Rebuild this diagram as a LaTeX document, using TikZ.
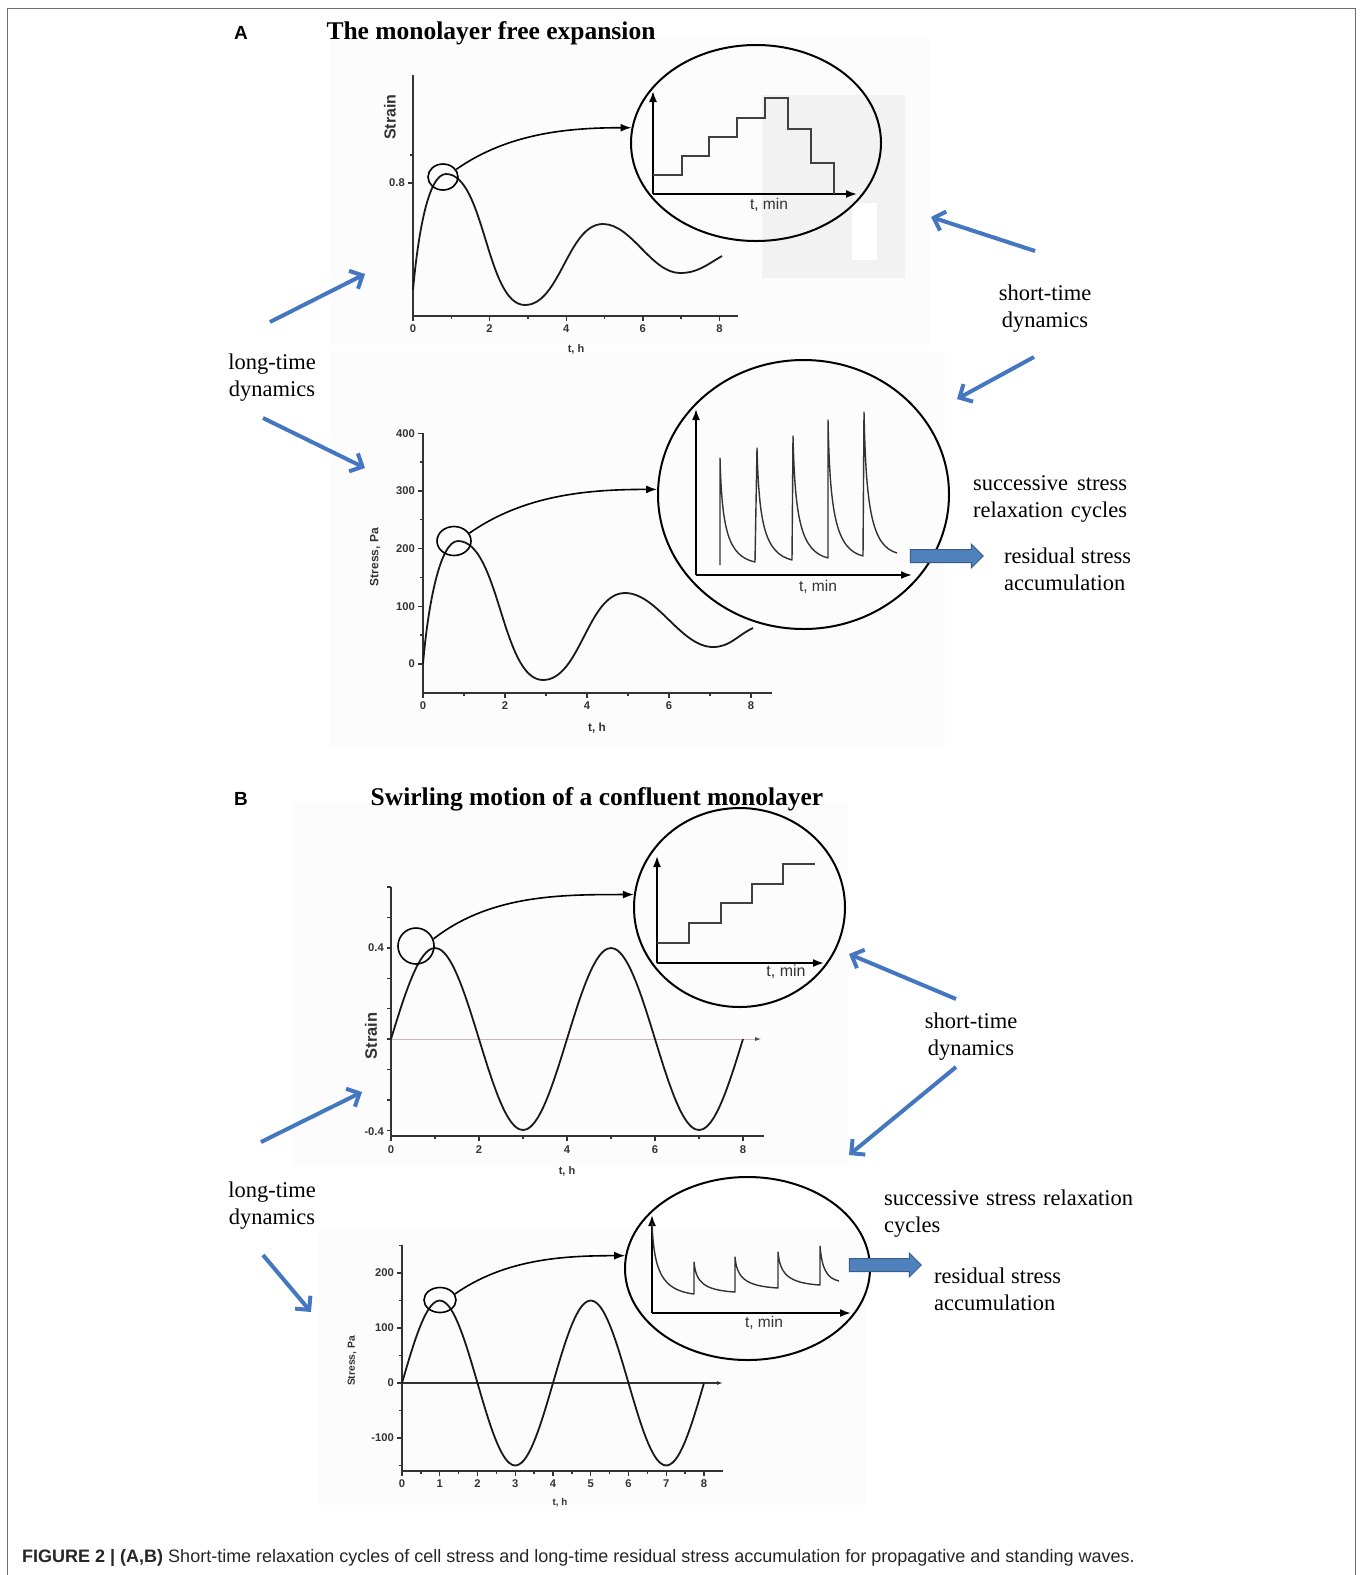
\documentclass[tikz,border=0pt]{standalone}
\usepackage{fontspec}
\setmainfont{Liberation Serif}
\setsansfont{Liberation Sans}
\usepackage{tikz}
\usetikzlibrary{arrows.meta, shapes.geometric, shapes.arrows}
\definecolor{arrowblue}{RGB}{68,118,194}
\definecolor{blockblue}{RGB}{79,129,189}
\definecolor{blockedge}{RGB}{56,93,138}
\definecolor{framegray}{RGB}{110,110,110}
\definecolor{zeroline}{RGB}{205,180,185}
\newcommand{\curvecolor}{black!90}
\newcommand{\axiscolor}{black!80}
\newcommand{\tickcolor}{black!80}
\newcommand{\paperbg}{black!1}

\begin{document}
\begin{tikzpicture}[
      % GLOBAL CFG
      x=1pt, y=-1pt,
      >=Latex,
      % Styles
      heading/.style={% panel titles
        font=\bfseries\fontsize{25.5}{30}\selectfont,
        inner sep=0,
        anchor=base
      },
      panel/.style={% panel letters
        font=\sffamily\bfseries\fontsize{19}{22}\selectfont,
        inner sep=0,
        anchor=base
      },
      annot/.style={% serif annotations
        font=\fontsize{22.5}{27}\selectfont,
        inner sep=0
      },
      ticklabel/.style={
        font=\sffamily\bfseries\fontsize{11.2}{12}\selectfont,
        text=\tickcolor,
        inner sep=0
      },
      axistitle/.style={
        font=\sffamily\bfseries\fontsize{#1}{#1}\selectfont,
        text=\tickcolor,
        inner sep=0
      },
      minlabel/.style={
        font=\sffamily\fontsize{15.5}{18}\selectfont,
        text=\tickcolor,
        inner sep=0
      },
      plotaxis/.style={line width=1.4pt, draw=\axiscolor},
      trace/.style={line width=1.8pt, draw=\curvecolor, line join=round},
      inset/.style={ellipse, draw, line width=2pt, inner sep=0},
      zoomring/.style={ellipse, draw, line width=1.6pt, inner sep=0},
      arrowzoom/.style={line width=1.6pt, -{Latex[length=11pt,width=8pt]}},
      insetaxis/.style={line width=1.8pt, -{Latex[length=11pt,width=8pt]}},
      stairs/.style={line width=1.5pt, draw=black!75},
      spikes/.style={line width=1.4pt, draw=black!80, line join=round},
      bluearrow/.style={% For the dynamics pointers
        line width=4pt,
        arrowblue,
        -{Straight Barb[length=10pt,width=20pt]}
      },
      blockarrow/.style={% For residual accumulation
        single arrow,
        draw=blockedge,
        fill=blockblue,
        line width=1pt,
        inner xsep=0,
        inner ysep=6pt,
        single arrow head extend=5.5pt,
        minimum height=73pt
      }
      ]
      \useasboundingbox (0,0) rectangle (1360,1575);

      % Frame and faint backgrounds
      \draw[framegray, line width=1.6pt] (7.5,1575) -- (7.5,8.5) -- (1355.5,8.5) -- (1355.5,1575);
      \fill[\paperbg] (330,38) rectangle (930,345);
      \fill[black!5] (762,95) rectangle (905,278);
      \fill[white] (852,203) rectangle (877,260);
      \fill[\paperbg] (330,352) rectangle (945,748);
      \fill[\paperbg] (293,803) rectangle (848,1165);
      \fill[\paperbg] (318,1228) rectangle (866,1505);

      % ---------------- Panel A ----------------
      \node[panel] (labA) at (241,39) {A};
      \node[heading] (headA) at (491,39) {The monolayer free expansion};

      % Strain plot
      \draw[plotaxis] (413,75) -- (413,316) -- (738,316);
      \foreach \k in {0,2,4,6,8}{
        \draw[plotaxis] ({413+38.3*\k},316) -- ++(0,5);
        \node[ticklabel] (xA1\k) at ({413+38.3*\k},329) {\k};
      }
      \foreach \k in {1,3,5,7}
        \draw[plotaxis] ({413+38.3*\k},316) -- ++(0,3);
      \draw[plotaxis] (413,183) -- ++(-5,0);
      \draw[plotaxis] (413,155) -- ++(-3,0);
      \node[ticklabel, anchor=east] (yA1) at (405,183) {0.8};
      \node[axistitle=16, rotate=90] (strainA) at (390,117) {Strain};
      \node[axistitle=11] (timeA1) at (576,349) {t, h};
      \draw[trace] (413,290) .. controls (418,235) and (428,174) .. (446,174)
        to[out=0, in=180, looseness=0.65] (525,305)
        to[out=0, in=180, looseness=0.8] (603,224)
        to[out=0, in=180, looseness=0.8] (680,273)
        to[out=0, in=210] (722,256);

      % Step inset
      \node[inset, minimum width=250pt, minimum height=196pt] (insetA1) at (756,143) {};
      \draw[insetaxis] (653,194) -- (653,91);
      \draw[insetaxis] (653,194) -- (857,194);
      \draw[stairs] (653,175) -| (682,156) -| (709,137) -| (737,118) -| (765,98) -| (788,129) -| (811,163) -| (834,194);
      \node[minlabel] (minA1) at (769,205) {t, min};
      \node[zoomring, minimum width=30pt, minimum height=26pt] (ringA1) at (443,177) {};
      \draw[arrowzoom] (ringA1.30) to[out=35, in=180, looseness=0.9] (insetA1.173);

      % Stress plot
      \draw[plotaxis] (423,433) -- (423,693) -- (772,693);
      \foreach \k/\v in {0/0,1/100,2/200,3/300,4/400}{
        \draw[plotaxis] (423,{664-57.7*\k}) -- ++(-5,0);
        \node[ticklabel, anchor=east] (yA2\k) at (415,{664-57.7*\k}) {\v};
      }
      \foreach \k in {0.5,1.5,2.5,3.5}
        \draw[plotaxis] (423,{664-57.7*\k}) -- ++(-3,0);
      \foreach \k in {0,2,4,6,8}{
        \draw[plotaxis] ({423+41*\k},693) -- ++(0,5);
        \node[ticklabel] (xA2\k) at ({423+41*\k},706) {\k};
      }
      \foreach \k in {1,3,5,7}
        \draw[plotaxis] ({423+41*\k},693) -- ++(0,3);
      \node[axistitle=12, rotate=90] (stressA) at (375,557) {Stress, Pa};
      \node[axistitle=11.8] (timeA2) at (597,728) {t, h};
      \draw[trace] (423,664) .. controls (428,605) and (440,541) .. (458,541)
        to[out=0, in=180, looseness=0.65] (543,680)
        to[out=0, in=180, looseness=0.8] (625,593)
        to[out=0, in=180, looseness=0.8] (713,647)
        to[out=0, in=205] (753,628);

      % Relaxation inset
      \node[inset, minimum width=291pt, minimum height=269pt] (insetA2) at (803.5,494.5) {};
      \draw[insetaxis] (696,575) -- (696,409);
      \draw[insetaxis] (696,575) -- (912,575);
      \draw[spikes] (720,565) -- (720,458) .. controls (722,530) and (728,556) .. (755,562)
        -- (757,448) .. controls (759,525) and (765,553) .. (792,560)
        -- (793,436) .. controls (795,520) and (801,551) .. (828,558)
        -- (828,420) .. controls (830,515) and (836,549) .. (863,556)
        -- (864,412) .. controls (866,510) and (872,546) .. (897,553);
      \node[minlabel] (minA2) at (818,587) {t, min};
      \node[zoomring, minimum width=34pt, minimum height=29pt] (ringA2) at (454,541) {};
      \draw[arrowzoom] (ringA2.27) to[out=35, in=180, looseness=0.9] (insetA2.178);

      % Dynamics labels
      \node[annot, align=center] (longA) at (272,377.5) {long-time\\dynamics};
      \node[annot, align=center] (shortA) at (1045,309) {short-time\\dynamics};
      \coordinate (ltA1tail) at (270,322);
      \coordinate (ltA1head) at (365,274);
      \coordinate (ltA2tail) at (263,418);
      \coordinate (ltA2head) at (365,468);
      \coordinate (stA1tail) at (1035,251);
      \coordinate (stA1head) at (931,217);
      \coordinate (stA2tail) at (1034,357);
      \coordinate (stA2head) at (957,399);
      \draw[bluearrow] (ltA1tail) -- (ltA1head);
      \draw[bluearrow] (ltA2tail) -- (ltA2head);
      \draw[bluearrow] (stA1tail) -- (stA1head);
      \draw[bluearrow] (stA2tail) -- (stA2head);

      \node[annot, anchor=west, align=left] (cycA) at (973,498.5) {\makebox[154pt][s]{successive stress}\\\makebox[154pt][s]{relaxation cycles}};
      \node[blockarrow] (accA) at (943.5,556) {};
      \node[annot, anchor=west, align=left] (resA) at (1004,569.5) {residual stress\\accumulation};

      % ---------------- Panel B ----------------
      \node[panel] (labB) at (241,805) {B};
      \node[heading] (headB) at (597,805) {Swirling motion of a confluent monolayer};

      % Strain plot
      \draw[zeroline, line width=0.8pt, -{Latex[length=6pt,width=4pt,color=black!70]}] (391,1039) -- (761,1039);
      \draw[plotaxis] (391,887) -- (391,1136) -- (764,1136);
      \foreach \k in {-3,...,5}
        \draw[plotaxis] (391,{1039-30.4*\k}) -- ++(-4,0);
      \node[ticklabel, anchor=east] (yB1a) at (384,948) {0.4};
      \node[ticklabel, anchor=east] (yB1b) at (384,1132) {-0.4};
      \foreach \k in {0,2,4,6,8}{
        \draw[plotaxis] ({391+44*\k},1136) -- ++(0,5);
        \node[ticklabel] (xB1\k) at ({391+44*\k},1150) {\k};
      }
      \foreach \k in {1,3,5,7}
        \draw[plotaxis] ({391+44*\k},1136) -- ++(0,3);
      \node[axistitle=16.5, rotate=90] (strainB) at (371,1036) {Strain};
      \node[axistitle=11] (timeB1) at (567,1171) {t, h};
      \draw[trace] plot[domain=0:8, samples=97, smooth] ({391+44*\x}, {1039-91*sin(90*\x)});

      % Step inset
      \node[inset, minimum width=211pt, minimum height=199pt] (insetB1) at (739.5,907.5) {};
      \draw[insetaxis] (657,963) -- (657,856);
      \draw[insetaxis] (657,963) -- (824,963);
      \draw[stairs] (657,943) -| (689,923) -| (721,903) -| (752,884) -| (783,864) -- (815,864);
      \node[minlabel, font=\sffamily\fontsize{16}{18}\selectfont] (minB1) at (786,972) {t, min};
      \node[zoomring, minimum size=36pt] (ringB1) at (416,946) {};
      \draw[arrowzoom] (ringB1.22) to[out=38, in=180, looseness=0.9] (insetB1.173);

      % Stress plot
      \draw[plotaxis, -{Latex[length=6pt,width=4pt]}] (402,1383) -- (723,1383);
      \draw[plotaxis] (402,1245) -- (402,1471) -- (723,1471);
      \foreach \k in {-3,...,5}
        \draw[plotaxis] (402,{1383-27.5*\k}) -- ++(-3,0);
      \foreach \k/\v in {-2/-100,0/0,2/100,4/200}{
        \draw[plotaxis] (402,{1383-27.5*\k}) -- ++(-5,0);
        \node[ticklabel, anchor=east] (yB2\k) at (394,{1383-27.5*\k}) {\v};
      }
      \foreach \k in {0,...,8}{
        \draw[plotaxis] ({402+37.75*\k},1471) -- ++(0,5);
        \node[ticklabel] (xB2\k) at ({402+37.75*\k},1484) {\k};
      }
      \foreach \k in {0.5,1.5,...,7.5}
        \draw[plotaxis] ({402+37.75*\k},1471) -- ++(0,3);
      \node[axistitle=10.3, rotate=90] (stressB) at (352,1361) {Stress, Pa};
      \node[axistitle=9.8] (timeB2) at (560,1503) {t, h};
      \draw[trace] plot[domain=0:8, samples=97, smooth] ({402+37.75*\x}, {1383-82.5*sin(90*\x)});

      % Relaxation inset
      \node[inset, minimum width=245pt, minimum height=183pt] (insetB2) at (747.5,1268.5) {};
      \draw[insetaxis] (652,1313) -- (652,1215);
      \draw[insetaxis] (652,1313) -- (851,1313);
      \draw[spikes] (652,1223) .. controls (654,1272) and (662,1290) .. (694,1294)
        -- (694,1262) .. controls (696,1282) and (703,1290) .. (735,1292)
        -- (735,1257) .. controls (737,1278) and (745,1286) .. (778,1288)
        -- (778,1252) .. controls (780,1274) and (788,1283) .. (820,1285)
        -- (820,1246) .. controls (822,1268) and (826,1278) .. (839,1281);
      \node[minlabel] (minB2) at (764,1323) {t, min};
      \node[zoomring, minimum width=32pt, minimum height=25pt] (ringB2) at (440,1300) {};
      \draw[arrowzoom] (ringB2.22) to[out=35, in=180, looseness=0.9] (insetB2.174);

      % Dynamics labels
      \node[annot, align=center] (shortB) at (971,1037) {short-time\\dynamics};
      \node[annot, align=center] (longB) at (272,1205.5) {long-time\\dynamics};
      \coordinate (stB1tail) at (956,999);
      \coordinate (stB1head) at (849,954);
      \coordinate (stB2tail) at (956,1067);
      \coordinate (stB2head) at (849,1155);
      \coordinate (ltB1tail) at (261,1142);
      \coordinate (ltB1head) at (362,1092);
      \coordinate (ltB2tail) at (263,1255);
      \coordinate (ltB2head) at (311,1312);
      \draw[bluearrow] (stB1tail) -- (stB1head);
      \draw[bluearrow] (stB2tail) -- (stB2head);
      \draw[bluearrow] (ltB1tail) -- (ltB1head);
      \draw[bluearrow] (ltB2tail) -- (ltB2head);

      \node[annot, anchor=west, align=left] (cycB) at (884,1213.5) {\makebox[249pt][s]{successive stress relaxation}\\cycles};
      \node[blockarrow, minimum height=72pt] (accB) at (882,1265) {};
      \node[annot, anchor=west, align=left] (resB) at (934,1289) {residual stress\\accumulation};

      % Caption
      \node[anchor=base west, font=\sffamily\fontsize{18}{21}\selectfont, text=black!85, inner sep=0] (caption) at (22,1562) {\textbf{FIGURE 2 | (A,B)} Short-time relaxation cycles of cell stress and long-time residual stress accumulation for propagative and standing waves.};
    \end{tikzpicture}
\end{document}
